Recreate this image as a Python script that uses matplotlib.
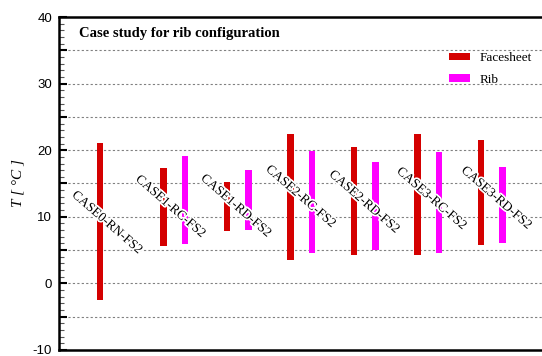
import matplotlib
matplotlib.use("Agg")
import matplotlib.pyplot as plt
import matplotlib.patheffects as pe
from matplotlib.ticker import MultipleLocator, FuncFormatter
from matplotlib.patches import Patch

# Temperature ranges per configuration (deg C)
cases = ["CASE0-RN-FS2", "CASE1-RC-FS2", "CASE1-RD-FS2", "CASE2-RC-FS2",
         "CASE2-RD-FS2", "CASE3-RC-FS2", "CASE3-RD-FS2"]
face_min = [-2.5, 5.6, 7.9, 3.5, 4.3, 4.3, 5.8]
face_max = [21.1, 17.3, 15.2, 22.5, 20.5, 22.5, 21.6]
rib_min = [None, 5.9, 8.0, 4.6, 5.0, 4.6, 6.1]
rib_max = [None, 19.1, 17.0, 19.9, 18.2, 19.7, 17.5]

# anchor points for the slanted case labels (x offset, y in data units)
label_x = [0.11, 0.11, 0.14, 0.16, 0.16, 0.22, 0.24]
label_y = [9.1, 11.5, 11.6, 13.0, 12.2, 12.7, 12.8]

RED = "#D40000"
MAG = "#FF00FF"
SERIF = "Liberation Serif"

fig = plt.figure(figsize=(5.42, 3.56), dpi=100)
ax = fig.add_axes([59 / 542, 6 / 356, 483 / 542, 333 / 356])

xs = list(range(len(cases)))
w = 0.105
off = 0.34
ax.bar(xs, [t - b for t, b in zip(face_max, face_min)], bottom=face_min,
       width=w, color=RED, zorder=3)
rx = [x + off for x, b in zip(xs, rib_min) if b is not None]
rb = [b for b in rib_min if b is not None]
rt = [t for t in rib_max if t is not None]
ax.bar(rx, [t - b for t, b in zip(rt, rb)], bottom=rb,
       width=w, color=MAG, zorder=3)

for x, dx, y, name in zip(xs, label_x, label_y, cases):
    ax.text(x + dx, y, name, rotation=-41, rotation_mode="anchor",
            ha="center", va="center", fontsize=9.5, family=SERIF,
            zorder=5,
            path_effects=[pe.withStroke(linewidth=2.5, foreground="white")])

ax.set_xlim(-0.646, 6.96)
ax.set_ylim(-10, 40)

for yv in range(-5, 40, 5):
    ax.axhline(yv, color="#808080", lw=0.8, dashes=(2, 2), zorder=1)

ax.yaxis.set_major_locator(MultipleLocator(5))
ax.yaxis.set_minor_locator(MultipleLocator(1))
ax.yaxis.set_major_formatter(FuncFormatter(
    lambda v, p: f"{int(v)}" if int(round(v)) % 10 == 0 else ""))
ax.tick_params(axis="y", which="major", direction="in", length=6, width=1.5,
               labelsize=9.5, pad=5, color="black")
ax.tick_params(axis="y", which="minor", direction="in", length=3.5, width=0.8,
               color="#555555")
for lab in ax.get_yticklabels():
    lab.set_family("Liberation Sans")
ax.set_xticks([])

for s in ("left", "bottom", "top"):
    ax.spines[s].set_linewidth(1.8)
ax.spines["right"].set_visible(False)

ax.set_ylabel("T [ °C ]", family=SERIF, style="italic", fontsize=11,
              labelpad=6)

ax.text(0.042, 0.95, "Case study for rib configuration", transform=ax.transAxes,
        ha="left", va="center", fontsize=10.5, fontweight="bold", family=SERIF)

handles = [Patch(facecolor=RED, label="Facesheet"),
           Patch(facecolor=MAG, label="Rib")]
ax.legend(handles=handles, loc="upper left", bbox_to_anchor=(0.807, 0.895),
          frameon=False, prop={"family": SERIF, "size": 9.5},
          handlelength=1.6, handleheight=0.5, labelspacing=0.75,
          handletextpad=0.75, borderpad=0, borderaxespad=0)

fig.savefig("out.png", dpi=100)
